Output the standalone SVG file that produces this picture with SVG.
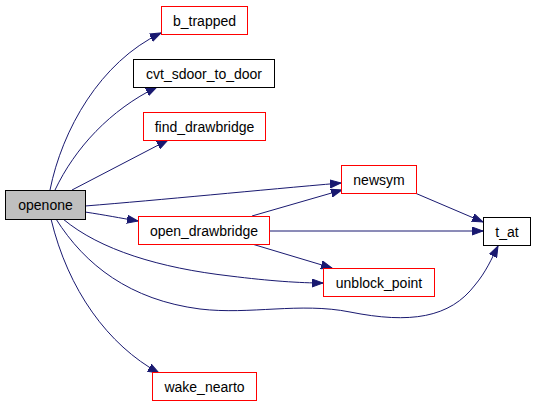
<svg xmlns="http://www.w3.org/2000/svg" width="536" height="407" viewBox="0 0 536 407">
<defs>
<style>
.n rect{fill:#fff;stroke:#ff0000;stroke-width:1}
.n.b rect{stroke:#000}
.n.g rect{fill:#bfbfbf;stroke:#000}
.n text{font-family:"Liberation Sans",Arial,sans-serif;font-size:14px;fill:#000;text-anchor:middle}
.e path{fill:none;stroke:#191970;stroke-width:1;marker-end:url(#a)}
</style>
<marker id="a" markerUnits="userSpaceOnUse" markerWidth="12" markerHeight="9" refX="11" refY="4" orient="auto" viewBox="0 0 12 8">
<path d="M0,0 L11,4 L0,8 z" fill="#191970" stroke="#191970"/>
</marker>
</defs>
<rect width="536" height="407" fill="#fff"/>
<g class="e" id="edges">
<path d="M50,190 C62,130 100,62 161,33"/>
<path d="M55,190 C75,148 110,110 157,87"/>
<path d="M72,190 L168,140"/>
<path d="M85,206 C160,200 260,190 341,183"/>
<path d="M85,212 C105,215 120,218 138,221"/>
<path d="M252,216 L342,190"/>
<path d="M269,231 L483,231"/>
<path d="M415,193 L483,222"/>
<path d="M252,244 L332,268"/>
<path d="M63,219 C100,250 160,268 230,276 C270,281 300,283 323,283"/>
<path d="M56,219 C85,265 130,300 200,309 C250,315 300,302 350,312 C410,324 450,318 475,285 C486,272 492,258 498,246"/>
<path d="M51,219 C68,290 108,345 159,373"/>
</g>
<g class="n g" id="openone"><rect x="5.5" y="190.5" width="80" height="29"/><text x="45.5" y="210">openone</text></g>
<g class="n" id="b_trapped"><rect x="161.5" y="6.5" width="86" height="28"/><text x="204.5" y="25.5">b_trapped</text></g>
<g class="n b" id="cvt_sdoor_to_door"><rect x="133.5" y="59.5" width="141" height="28"/><text x="204" y="78.5">cvt_sdoor_to_door</text></g>
<g class="n" id="find_drawbridge"><rect x="143.5" y="112.5" width="122" height="28"/><text x="204.5" y="131.5">find_drawbridge</text></g>
<g class="n" id="newsym"><rect x="341.5" y="165.5" width="75" height="28"/><text x="379" y="184.5">newsym</text></g>
<g class="n" id="open_drawbridge"><rect x="138.5" y="216.5" width="131" height="28"/><text x="204" y="235.5">open_drawbridge</text></g>
<g class="n b" id="t_at"><rect x="483.5" y="217.5" width="47" height="28"/><text x="507" y="236.5">t_at</text></g>
<g class="n" id="unblock_point"><rect x="323.5" y="268.5" width="111" height="28"/><text x="379" y="287.5">unblock_point</text></g>
<g class="n" id="wake_nearto"><rect x="152.5" y="372.5" width="104" height="28"/><text x="204.5" y="391.5">wake_nearto</text></g>
</svg>
